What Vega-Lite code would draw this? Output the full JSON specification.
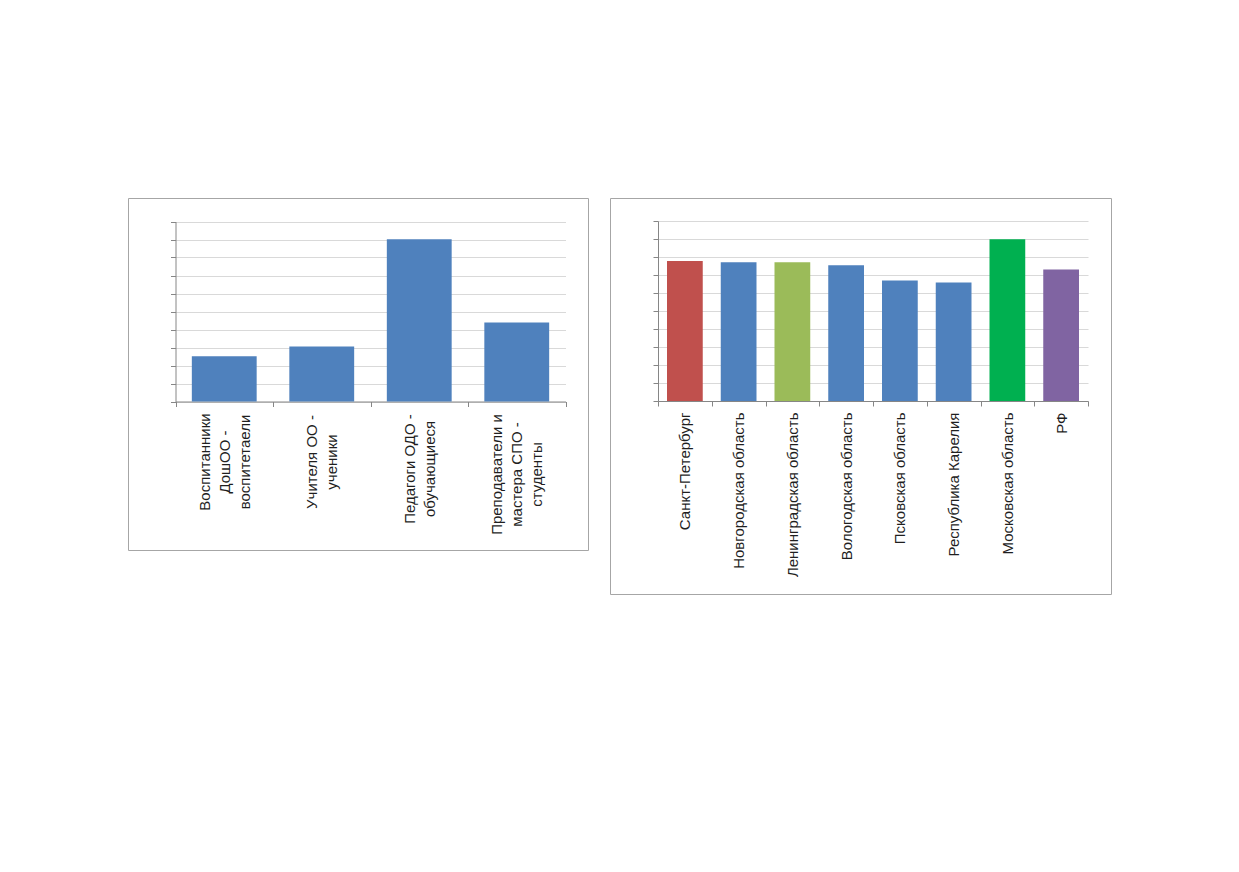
{
  "$schema": "https://vega.github.io/schema/vega-lite/v6.json",
  "background": "white",
  "padding": {"left": 120, "top": 197, "right": 0, "bottom": 0},
  "spacing": 13,
  "datasets": {
    "staff": [
      {"pair": "Воспитанники|ДошОО -|воспитетаели", "value": 2.52},
      {"pair": "Учителя ОО -|ученики", "value": 3.06},
      {"pair": "Педагоги ОДО -|обучающиеся", "value": 9.01},
      {"pair": "Преподаватели и|мастера СПО -|студенты", "value": 4.39}
    ],
    "regions": [
      {"region": "Санкт-Петербург", "value": 7.78},
      {"region": "Новгородская область", "value": 7.71},
      {"region": "Ленинградская область", "value": 7.71},
      {"region": "Вологодская область", "value": 7.54},
      {"region": "Псковская область", "value": 6.69},
      {"region": "Республика Карелия", "value": 6.59},
      {"region": "Московская область", "value": 8.98},
      {"region": "РФ", "value": 7.3}
    ]
  },
  "config": {
    "view": {"stroke": "#a6a6a6", "strokeWidth": 1},
    "axis": {
      "domainColor": "#868686",
      "tickColor": "#868686",
      "gridColor": "#d9d9d9",
      "labelFont": "Liberation Sans",
      "labelFontSize": 15,
      "labelColor": "#1f1f1f",
      "tickSize": 5
    }
  },
  "hconcat": [
    {
      "width": 460,
      "height": 352,
      "data": {"name": "staff"},
      "mark": {"type": "bar", "width": {"band": 0.665}, "color": "#4F81BD"},
      "encoding": {
        "x": {
          "field": "pair",
          "type": "nominal",
          "sort": null,
          "scale": {"range": [47.5, 437.5], "paddingInner": 0, "paddingOuter": 0},
          "axis": {
            "title": null,
            "grid": false,
            "tickBand": "extent",
            "offset": -148.5,
            "labelAngle": -90,
            "labelAlign": "center",
            "labelBaseline": "middle",
            "labelLineHeight": 20,
            "labelLimit": 0,
            "labelOverlap": false,
            "labelExpr": "split(datum.label, '|')",
            "labelPadding": {
              "condition": [
                {"test": "indexof(datum.label, 'Педагоги') == 0", "value": 62},
                {"test": "indexof(datum.label, 'Преподаватели') == 0", "value": 67.5}
              ],
              "value": 55
            },
            "labelOffset": {
              "condition": {"test": "length(split(datum.label, '|')) == 3", "value": -20},
              "value": -10
            }
          }
        },
        "y": {
          "field": "value",
          "type": "quantitative",
          "scale": {"domain": [0, 10], "range": [203.5, 23.5], "nice": false},
          "axis": {
            "title": null,
            "labels": false,
            "grid": true,
            "offset": -47.5,
            "values": [0, 1, 2, 3, 4, 5, 6, 7, 8, 9, 10]
          }
        }
      }
    },
    {
      "width": 501,
      "height": 396,
      "data": {"name": "regions"},
      "mark": {"type": "bar", "width": {"band": 0.665}},
      "encoding": {
        "x": {
          "field": "region",
          "type": "nominal",
          "sort": null,
          "scale": {"range": [48, 478], "paddingInner": 0, "paddingOuter": 0},
          "axis": {
            "title": null,
            "grid": false,
            "tickBand": "extent",
            "offset": -193,
            "labelAngle": -90,
            "labelAlign": "right",
            "labelBaseline": "middle",
            "labelPadding": 6,
            "labelLimit": 0,
            "labelOverlap": false
          }
        },
        "y": {
          "field": "value",
          "type": "quantitative",
          "scale": {"domain": [0, 10], "range": [203, 23], "nice": false},
          "axis": {
            "title": null,
            "labels": false,
            "grid": true,
            "offset": -48,
            "values": [0, 1, 2, 3, 4, 5, 6, 7, 8, 9, 10]
          }
        },
        "color": {
          "field": "region",
          "type": "nominal",
          "sort": null,
          "legend": null,
          "scale": {
            "domain": ["Санкт-Петербург", "Новгородская область", "Ленинградская область", "Вологодская область", "Псковская область", "Республика Карелия", "Московская область", "РФ"],
            "range": ["#C0504D", "#4F81BD", "#9BBB59", "#4F81BD", "#4F81BD", "#4F81BD", "#00B050", "#8064A2"]
          }
        }
      }
    }
  ]
}
